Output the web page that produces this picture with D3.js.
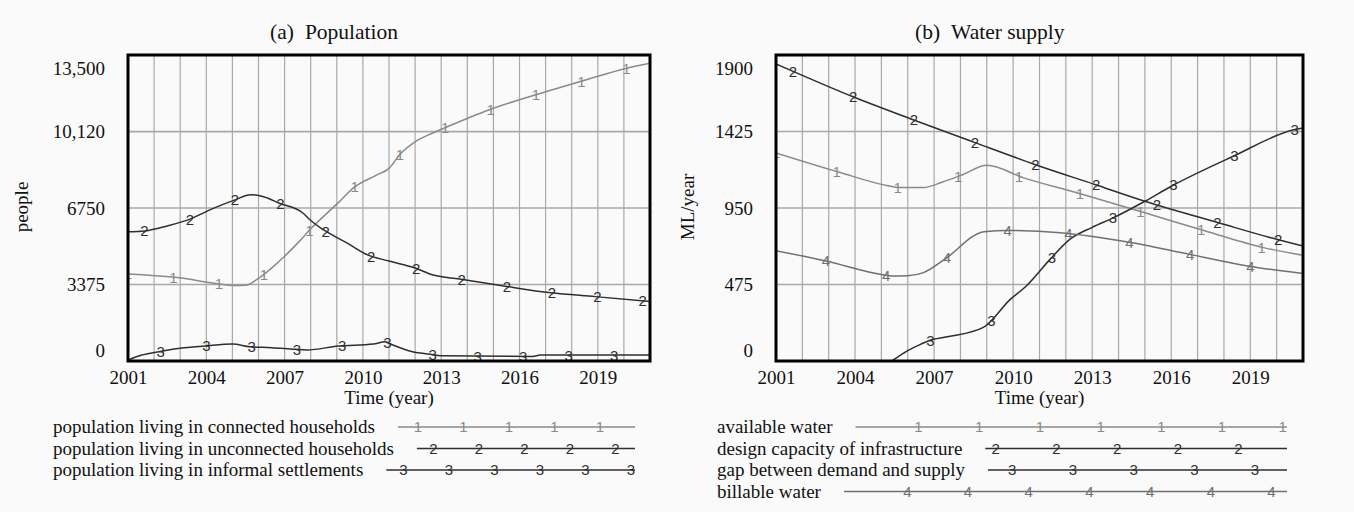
<!DOCTYPE html>
<html>
<head>
<meta charset="utf-8">
<script src="https://cdn.jsdelivr.net/npm/d3@7"></script>
<style>
body { margin: 0; background: #fafafa; }
svg { display: block; font-family: "Liberation Serif", "Times New Roman", serif; }
</style>
</head>
<body>
<svg width="1354" height="512"></svg>
<script>
// shared time axis
var yearTicks = [2001, 2004, 2007, 2010, 2013, 2016, 2019];

// (a) Population (people)
var popTicks = [0, 3375, 6750, 10120, 13500];
var popTickLabels = ["0", "3375", "6750", "10,120", "13,500"];
var popNames = ["population living in connected households",
                "population living in unconnected households",
                "population living in informal settlements"];
var connected = [[2001, 3840], [2002.8, 3690], [2004.5, 3400], [2005, 3330], [2005.5, 3340],
    [2006, 3650], [2006.5, 4100], [2007, 4620], [2007.5, 5200], [2008, 5830], [2009, 6920],
    [2009.7, 7690], [2010.5, 8190], [2011, 8500], [2011.45, 9160], [2012, 9670], [2012.7, 10070],
    [2013.1, 10270], [2014.9, 11110], [2016.7, 11770], [2018.4, 12350], [2020.1, 12920], [2021, 13140]];
var unconnected = [[2001, 5700], [2001.65, 5740], [2002.5, 5960], [2003.4, 6270], [2004.2, 6700],
    [2005.1, 7110], [2005.7, 7340], [2006.2, 7250], [2006.8, 6960], [2007.7, 6530], [2008, 6200],
    [2008.5, 5780], [2009.4, 5200], [2010.2, 4670], [2011, 4410], [2012, 4100], [2012.7, 3790],
    [2013.7, 3620], [2015.4, 3310], [2017.2, 3010], [2018.9, 2840], [2021, 2620]];
var informal = [[2001, 40], [2001.5, 250], [2002.2, 410], [2003, 560], [2003.95, 660], [2005, 750],
    [2005.67, 630], [2006.5, 590], [2007.4, 515], [2007.85, 485], [2009.05, 660], [2010.4, 750],
    [2010.85, 850], [2011.15, 705], [2011.9, 410], [2012.57, 300], [2013, 230], [2016.5, 200],
    [2016.8, 260], [2021, 260]];

// (b) Water supply (ML/year)
var waterTicks = [0, 475, 950, 1425, 1900];
var waterTickLabels = ["0", "475", "950", "1425", "1900"];
var waterNames = ["available water", "design capacity of infrastructure",
                  "gap between demand and supply", "billable water"];
var available = [[2001, 1292], [2003.4, 1172], [2005.2, 1090], [2005.7, 1077], [2006.6, 1077],
    [2007.3, 1110], [2008.1, 1158], [2009, 1215], [2010.4, 1137], [2012.65, 1034], [2015, 920],
    [2017.3, 807], [2019.5, 704], [2021, 656]];
var capacity = [[2001, 1845], [2001.67, 1797], [2003.9, 1642], [2006.2, 1498], [2008.55, 1356],
    [2010.85, 1219], [2013.1, 1096], [2015, 992], [2017.8, 858], [2020.1, 751], [2021, 714]];
var gap = [[2005.4, 0], [2006, 64], [2006.5, 105], [2006.8, 126], [2007.5, 150], [2008.87, 209],
    [2009.9, 384], [2010.5, 466], [2011.4, 631], [2012.15, 755], [2013, 830], [2013.8, 889],
    [2015, 992], [2016, 1085], [2018.35, 1271], [2020.65, 1436], [2021, 1447]];
var billable = [[2001, 685], [2002.9, 621], [2005.1, 534], [2005.4, 528], [2006, 530], [2006.6, 549],
    [2007.4, 631], [2008.9, 803], [2009.8, 811], [2011.8, 797], [2014.4, 738], [2016.7, 662],
    [2018.9, 590], [2021, 543]];

var grey = "#8a8a8a", dark = "#2e2e2e", mid = "#707070";
var serif = "'Liberation Serif', 'Times New Roman', serif";
var sans = "'Liberation Sans', Arial, sans-serif";

var panels = [
    {title: "(a)", title2: "Population", titleX: 270, ylabel: "people", ylabelX: 22,
     left: 128, right: 650, max: 13500, ticks: popTicks, labels: popTickLabels,
     series: [connected, unconnected, informal], names: popNames, colors: [grey, dark, dark],
     markGap: 45.3, markShift: 16.3,
     legX: 53, legEnd: 635, legBase: 418, legGap: 45.5, legShift: 15.5},
    {title: "(b)", title2: "Water supply", titleX: 915, ylabel: "ML/year", ylabelX: 688,
     left: 776, right: 1303, max: 1900, ticks: waterTicks, labels: waterTickLabels,
     series: [available, capacity, gap, billable], names: waterNames, colors: [grey, dark, dark, mid],
     markGap: 60.7, markShift: 16.5,
     legX: 717, legEnd: 1287, legBase: 918.5, legGap: 60.7, legShift: 16.5}
];

var plotTop = 55, plotBottom = 361;
var svg = d3.select("svg");
svg.append("rect").attr("width", 1354).attr("height", 512).attr("fill", "#fafafa");

panels.forEach(function(p, pi)
{
    var x = d3.scaleLinear().domain([2001, 2021]).range([p.left, p.right]);
    var y = d3.scaleLinear().domain([0, p.max]).range([plotBottom, plotTop]);
    var g = svg.append("g");

    // title
    var t = g.append("text").attr("x", p.titleX).attr("y", 39).attr("font-size", 21.5)
        .attr("font-family", serif).attr("fill", "#111");
    t.append("tspan").text(p.title);
    t.append("tspan").attr("dx", 11).text(p.title2);

    // grid
    g.append("g").selectAll("line").data(d3.range(2002, 2021)).enter().append("line")
        .attr("x1", function(d) { return x(d); }).attr("x2", function(d) { return x(d); })
        .attr("y1", plotTop).attr("y2", plotBottom)
        .attr("stroke", "#a9a9a9").attr("stroke-width", 1.2);
    g.append("g").selectAll("line").data(p.ticks.slice(1, -1)).enter().append("line")
        .attr("x1", p.left).attr("x2", p.right)
        .attr("y1", function(d) { return y(d); }).attr("y2", function(d) { return y(d); })
        .attr("stroke", "#a9a9a9").attr("stroke-width", 1.6);

    // y axis
    var ya = g.append("g").attr("transform", "translate(" + p.left + ",0)")
        .call(d3.axisLeft(y).tickValues(p.ticks).tickSize(0).tickPadding(23)
            .tickFormat(function(d, i) { return p.labels[i]; }));
    ya.select(".domain").remove();
    ya.selectAll("text").attr("font-size", 19).attr("font-family", serif).attr("fill", "#111")
        .attr("dy", function(d, i) { return i === 0 ? "-0.25em" : (i === p.ticks.length - 1 ? "1.05em" : "0.32em"); });

    // x axis
    var xa = g.append("g").attr("transform", "translate(0," + plotBottom + ")")
        .call(d3.axisBottom(x).tickValues(yearTicks).tickSize(0).tickPadding(10).tickFormat(d3.format("d")));
    xa.select(".domain").remove();
    xa.selectAll("text").attr("font-size", 19).attr("font-family", serif).attr("fill", "#111");

    g.append("text").attr("x", (p.left + p.right) / 2).attr("y", 404).attr("text-anchor", "middle")
        .attr("font-size", 19).attr("font-family", serif).attr("fill", "#111").text("Time (year)");
    g.append("text").attr("transform", "translate(" + p.ylabelX + ",207) rotate(-90)")
        .attr("text-anchor", "middle").attr("dy", "0.32em").attr("font-size", 19)
        .attr("font-family", serif).attr("fill", "#111").text(p.ylabel);

    // lines
    var clipId = "clip" + pi;
    g.append("clipPath").attr("id", clipId).append("rect")
        .attr("x", p.left).attr("y", plotTop).attr("width", p.right - p.left).attr("height", plotBottom - plotTop);
    var line = d3.line().x(function(d) { return x(d[0]); }).y(function(d) { return y(d[1]); })
        .curve(d3.curveMonotoneX);
    var plot = g.append("g").attr("clip-path", "url(#" + clipId + ")");

    p.series.forEach(function(s, k)
    {
        var path = plot.append("path").datum(s).attr("d", line)
            .attr("fill", "none").attr("stroke", p.colors[k]).attr("stroke-width", 1.5);
        // sample the path so digits sit on the curve
        var node = path.node(), len = node.getTotalLength(), pts = [];
        for (var l = 0; l <= len; l += 0.5) pts.push(node.getPointAtLength(l));
        var x0 = x(s[0][0]), x1 = x(s[s.length - 1][0]);
        var marks = [];
        for (var mx = p.left + k * p.markShift; mx <= p.right; mx += p.markGap)
        {
            if (mx < x0 || mx > x1) continue;
            var pt = pts.find(function(q) { return q.x >= mx; }) || pts[pts.length - 1];
            marks.push(pt);
        }
        plot.append("g").selectAll("text").data(marks).enter().append("text")
            .attr("x", function(d) { return d.x; }).attr("y", function(d) { return d.y; })
            .attr("dy", "0.36em").attr("text-anchor", "middle")
            .attr("font-family", sans).attr("font-size", 15)
            .attr("fill", p.colors[k]).text(k + 1);
    });

    // frame
    g.append("rect").attr("x", p.left).attr("y", plotTop).attr("width", p.right - p.left).attr("height", plotBottom - plotTop)
        .attr("fill", "none").attr("stroke", "#000").attr("stroke-width", 3);

    // legend
    p.names.forEach(function(name, k)
    {
        var ly = 427 + k * 21.5;
        var txt = g.append("text").attr("x", p.legX).attr("y", ly).attr("dy", "0.32em")
            .attr("font-size", 19).attr("font-family", serif).attr("fill", "#111").text(name);
        var start = p.legX + txt.node().getComputedTextLength() + 23;
        g.append("line").attr("x1", start).attr("x2", p.legEnd).attr("y1", ly).attr("y2", ly)
            .attr("stroke", p.colors[k]).attr("stroke-width", 1.5);
        var lm = [];
        var b = p.legBase + k * p.legShift;
        while (b - p.legGap >= start + 4) b -= p.legGap;
        while (b < start + 4) b += p.legGap;
        for (; b <= p.legEnd; b += p.legGap) lm.push(b);
        g.append("g").selectAll("text").data(lm).enter().append("text")
            .attr("x", function(d) { return d; }).attr("y", ly).attr("dy", "0.36em").attr("text-anchor", "middle")
            .attr("font-family", sans).attr("font-size", 15)
            .attr("fill", p.colors[k]).text(k + 1);
    });
});
</script>
</body>
</html>
